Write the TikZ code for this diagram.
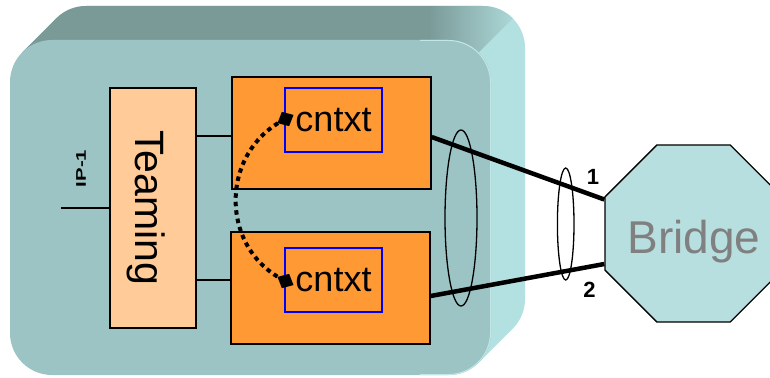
\documentclass[tikz,border=0pt]{standalone}
\usepackage{fontspec}
\setmainfont{Liberation Sans}
\usepackage{graphicx}
\usetikzlibrary{positioning,calc,arrows.meta,shapes.geometric}
\definecolor{boxfront}{HTML}{9CC4C4}
\definecolor{boxtop}{HTML}{7A9A98}
\definecolor{boxside}{HTML}{B3E0E0}
\definecolor{nicorange}{HTML}{FF9933}
\definecolor{teamfill}{HTML}{FFCC99}
\definecolor{bridgefill}{HTML}{B8DFE0}
\definecolor{bridgetxt}{HTML}{808080}
\pgfdeclarehorizontalshading{topface}{100bp}{color(0bp)=(boxtop); color(25bp)=(boxtop); color(65bp)=(boxtop); color(75bp)=(boxside); color(100bp)=(boxside)}

\begin{document}
\begin{tikzpicture}[x=1pt,y=-1pt,
  nicbox/.style={draw,line width=1.4pt,fill=nicorange,minimum width=199pt,minimum height=112pt,inner sep=0pt},
  ctxbox/.style={draw=blue,line width=1.2pt,minimum width=97pt,minimum height=64pt,inner sep=0pt,font=\fontsize{36}{40}\selectfont},
  teambox/.style={draw,line width=1.4pt,fill=teamfill,minimum width=86pt,minimum height=240pt,inner sep=0pt},
  bridgebox/.style={regular polygon,regular polygon sides=8,draw,line width=1.3pt,fill=bridgefill,minimum size=191.6pt,inner sep=0pt},
  wire/.style={line width=1.2pt},
  link/.style={line width=4.5pt},
  bundle/.style={draw,line width=1.3pt},
  handover/.style={line width=4pt,dash pattern=on 4.5pt off 4pt},
  portlbl/.style={font=\bfseries\fontsize{22}{24}\selectfont,inner sep=0pt}]
\useasboundingbox (0,0) rectangle (770,377);
\clip (0,0) rectangle (770,377);
% Server box: side, top and front faces
\fill[boxside,rounded corners=42pt] (44,6) rectangle (525,341);
\fill[boxside] (22.3,52.3) -- (56.3,18.3) -- (512.7,328.7) -- (478.7,362.7) -- cycle;
\begin{scope}
\clip (0,0) -- (531,0) -- (0,531) -- cycle;
\shade[shading=topface,rounded corners=42pt] (44,6) rectangle (525,341);
\shade[shading=topface] (22.3,52.3) -- (56.3,18.3) -- (512.7,328.7) -- (478.7,362.7) -- cycle;
\end{scope}
\fill[boxfront,rounded corners=42pt] (10,40) rectangle (491,375);
\begin{scope}
\clip (420,0) -- (560,0) -- (560,377) -- (420,377) -- cycle;
\draw[boxside!80!white,line width=1pt,rounded corners=42pt] (10.5,40.5) rectangle (490.5,374.5);
\end{scope}
% Teaming block and IP-1 line
\node[teambox] (teaming) at (153,208) {};
\node[rotate=-90,anchor=base,font=\fontsize{41}{44}\selectfont,inner sep=0pt] (teamlbl) at (135,207.5) {Teaming};
\coordinate (ipend) at (61,208);
\draw[wire] (teaming.west) -- (ipend);
\node[rotate=90,font=\bfseries\fontsize{14}{15}\selectfont,inner sep=0pt] (iplbl) at (81,168.5) {\scalebox{1.45}[1]{IP-1}};
% NICs with context boxes
\node[nicbox] (nicup) at (331.5,133) {};
\node[nicbox] (nicdn) at (330.5,288) {};
\node[ctxbox] (ctxup) at (333.5,120) {cntxt};
\node[ctxbox] (ctxdn) at (333.5,280) {cntxt};
\draw[wire] ($(nicup.west)+(0,3)$) -- ($(nicup.west -| teaming.east)+(0,3)$);
\draw[wire] ($(nicdn.west)+(0,-8)$) -- ($(nicdn.west -| teaming.east)+(0,-8)$);
% Context hand-over
\coordinate (ctxa) at (285.5,119);
\coordinate (ctxb) at (285.5,281);
\draw[handover] (ctxa) .. controls (219,152) and (219,249) .. (ctxb);
\fill[rotate around={27:(ctxa)}] ($(ctxa)+(-9,0)$) -- ($(ctxa)+(0,-8)$) -- ($(ctxa)+(9,0)$) -- ($(ctxa)+(0,8)$) -- cycle;
\fill[rotate around={-27:(ctxb)}] ($(ctxb)+(-9,0)$) -- ($(ctxb)+(0,-8)$) -- ($(ctxb)+(9,0)$) -- ($(ctxb)+(0,8)$) -- cycle;
% Bridge and links
\node[bridgebox] (bridge) at (693.5,233.5) {};
\node[anchor=base,text=bridgetxt,font=\fontsize{46}{50}\selectfont,inner sep=0pt] (bridgelbl) at (694,253) {Bridge};
\draw[link] ($(nicup.east)+(0,4)$) -- ($(bridge.west)+(0,-34)$);
\draw[link] ($(nicdn.east)+(0,8)$) -- ($(bridge.west)+(0,30.5)$);
\draw[bundle] (461,218) ellipse [x radius=16pt,y radius=88pt];
\draw[bundle] (565.7,224) ellipse [x radius=8.3pt,y radius=56pt];
\node[portlbl] (port1) at (593,177) {1};
\node[portlbl] (port2) at (589.5,289.5) {2};
\end{tikzpicture}
\end{document}
